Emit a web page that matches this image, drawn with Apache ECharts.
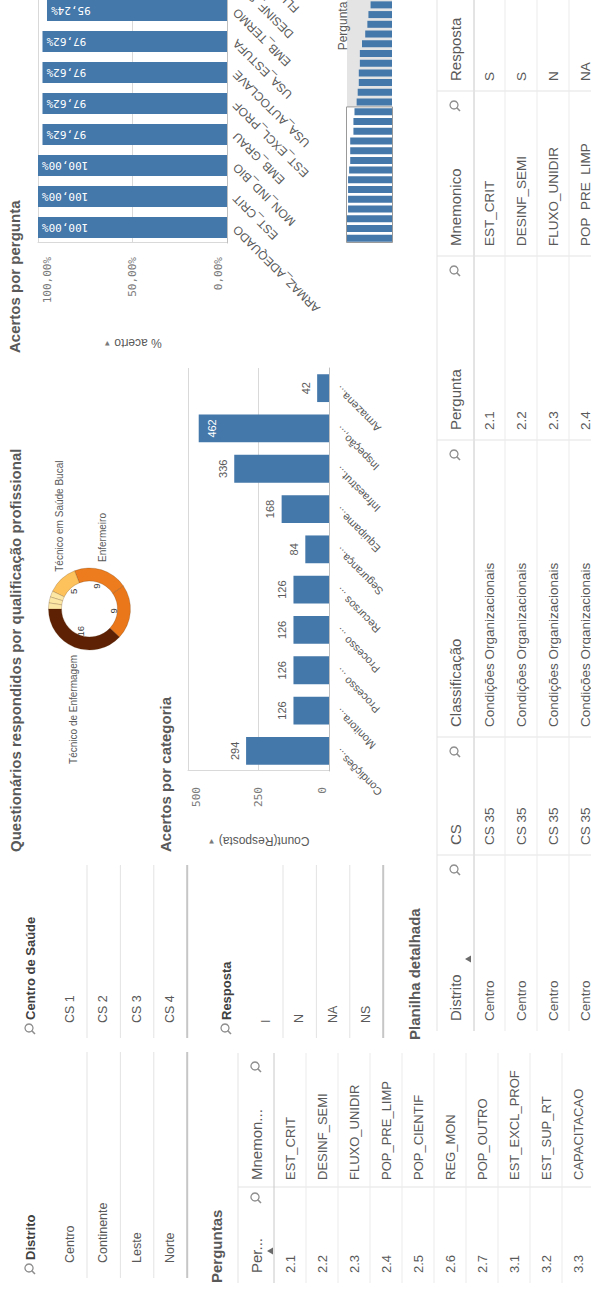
<!DOCTYPE html>
<html>
<head>
<meta charset="utf-8">
<script src="https://cdn.jsdelivr.net/npm/echarts@6/dist/echarts.min.js"></script>
<style>
  html, body { margin: 0; padding: 0; background: #fff; overflow: hidden; width: 591px; height: 1293px; }
  /* the sheet is laid out landscape and turned a quarter turn counter-clockwise;
     whatever lies beyond x = 1293 ends up above the page and is not shown */
  #board { position: absolute; left: 0; top: 0; width: 1500px; height: 591px;
           transform-origin: 0 0; transform: translateY(1293px) rotate(-90deg); background: #fff; }
</style>
</head>
<body>
<div id="board"></div>
<script>
// ---------- data ----------
const distritos = ['Centro', 'Continente', 'Leste', 'Norte'];
const centrosSaude = ['CS 1', 'CS 2', 'CS 3', 'CS 4'];
const respostas = ['I', 'N', 'NA', 'NS'];

const perguntaCodigos = ['2.1', '2.2', '2.3', '2.4', '2.5', '2.6', '2.7', '3.1', '3.2', '3.3'];
const perguntaMnemonicos = ['EST_CRIT', 'DESINF_SEMI', 'FLUXO_UNIDIR', 'POP_PRE_LIMP', 'POP_CIENTIF',
  'REG_MON', 'POP_OUTRO', 'EST_EXCL_PROF', 'EST_SUP_RT', 'CAPACITACAO'];

const qualificacoes = ['Técnico de Enfermagem', 'Auxiliar de Enfermagem', 'Enfermeiro',
  'Técnico em Saúde Bucal', 'Cirurgião-Dentista', 'Auxiliar em Saúde Bucal', 'Outro'];
const questionarios = [16, 9, 9, 5, 1, 1, 1];
const qualificacaoCores = ['#5e2104', '#ea781b', '#ec7c1d', '#fdc25c', '#fde7a5', '#fde7a5', '#fde7a5'];
const qualificacaoRotulo = [true, false, true, true, false, false, false];

const categorias = ['Condições Organizacionais', 'Monitoramento', 'Processo de Limpeza',
  'Processo de Esterilização', 'Recursos Humanos', 'Segurança', 'Equipamentos',
  'Infraestrutura', 'Inspeção, Preparo e Acondicionamento', 'Armazenamento'];
const categoriaRotulos = ['Condições...', 'Monitora...', 'Processo ...', 'Processo ...', 'Recursos ...',
  'Segurança...', 'Equipame...', 'Infraestrut...', 'Inspeção,...', 'Armazena...'];
const acertosCategoria = [294, 126, 126, 126, 126, 84, 168, 336, 462, 42];
const categoriaTicks = [0, 250, 500];

const perguntaNomes = ['ARMAZ_ADEQUADO', 'EST_CRIT', 'MON_IND_BIO', 'EMB_GRAU', 'EST_EXCL_PROF',
  'USA_AUTOCLAVE', 'USA_ESTUFA', 'EMB_TERMO', 'DESINF_SEMI', 'FLUXO_UNIDIR', 'POP_PRE_LIMP',
  'POP_CIENTIF', 'REG_MON', 'POP_OUTRO', 'EST_SUP_RT', 'CAPACITACAO', 'EPI_USO', 'LIMP_AMBIENTE',
  'EMB_SELAGEM', 'IND_QUIMICO', 'VALIDACAO', 'MANUT_PREV', 'REG_ESTERIL', 'TESTE_BD', 'EST_FLUXO'];
const acertoPergunta = [100, 100, 100, 97.62, 97.62, 97.62, 97.62, 95.24, 92.86, 92.86, 92.86,
  85.71, 85.71, 83.33, 78.57, 76.19, 73.81, 73.81, 71.43, 71.43, 66.67, 59.52, 54.76, 52.38, 47.62];
const acertoTicks = [0, 50, 100];
const perguntasNaJanela = 14;

const planilhaColunas = ['Distrito', 'CS', 'Classificação', 'Pergunta', 'Mnemonico', 'Resposta'];
const planilhaDistrito = ['Centro', 'Centro', 'Centro', 'Centro'];
const planilhaCS = ['CS 35', 'CS 35', 'CS 35', 'CS 35'];
const planilhaClassificacao = ['Condições Organizacionais', 'Condições Organizacionais',
  'Condições Organizacionais', 'Condições Organizacionais'];
const planilhaPergunta = ['2.1', '2.2', '2.3', '2.4'];
const planilhaMnemonico = ['EST_CRIT', 'DESINF_SEMI', 'FLUXO_UNIDIR', 'POP_PRE_LIMP'];
const planilhaResposta = ['S', 'S', 'N', 'NA'];

// ---------- styling helpers ----------
const SANS = '"Liberation Sans", Arial, sans-serif';
const MONO = '"DejaVu Sans Mono", monospace';
const TXT = '#595959';
const BLUE = '#4477aa';
const W = 1500, H = 591, VIS = 1293;
const G = [];

function txt(x, y, s, o) {
  o = o || {};
  G.push({
    type: 'text', x: x, y: y, z: 20, silent: true,
    style: {
      text: s, fill: o.fill || TXT, fontSize: o.size || 13,
      fontWeight: o.bold ? 'bold' : 'normal', fontFamily: o.family || SANS,
      textAlign: o.align || 'left', align: o.align || 'left',
      textVerticalAlign: 'middle', verticalAlign: 'middle'
    }
  });
}
function ln(x1, y1, x2, y2, stroke, w) {
  G.push({ type: 'line', z: 1, silent: true, shape: { x1: x1, y1: y1, x2: x2, y2: y2 },
    style: { stroke: stroke, lineWidth: w || 1 } });
}
function lupa(x, y) {
  G.push({ type: 'group', x: x, y: y, z: 20, silent: true, children: [
    { type: 'circle', shape: { cx: 1, cy: -1, r: 4 }, style: { stroke: '#8f8f8f', fill: 'none', lineWidth: 1.3 } },
    { type: 'line', shape: { x1: -1.8, y1: 1.8, x2: -5, y2: 5 }, style: { stroke: '#8f8f8f', lineWidth: 1.6 } }
  ] });
}
function seta(x, y) {
  G.push({ type: 'polygon', z: 20, silent: true, shape: { points: [[x - 3.5, y + 3], [x + 3.5, y + 3], [x, y - 3]] },
    style: { fill: '#6b6b6b' } });
}

// ---------- filter panes ----------
function painel(x0, x1, titleY, titulo, itens, firstY) {
  lupa(x0 + 9, titleY);
  txt(x0 + 18, titleY, titulo, { bold: true, size: 13, fill: '#404040' });
  const passo = 33.4;
  itens.forEach(function (it, i) {
    const y = firstY + i * passo;
    txt(x0 + 15, y, it, { size: 12.5 });
    const last = i === itens.length - 1;
    ln(x0, y + 17, x1, y + 17, last ? '#c6c6c6' : '#e3e3e3', last ? 2 : 1);
  });
}
painel(15, 241, 30, 'Distrito', distritos, 70);
painel(255, 428, 30, 'Centro de Saúde', centrosSaude, 70);
painel(255, 428, 226, 'Resposta', respostas, 266);

// ---------- "Perguntas" table ----------
txt(10, 216, 'Perguntas', { bold: true, size: 15 });
ln(10, 238, 240, 238, '#e3e3e3');
txt(20, 256, 'Per...', { size: 15 });
seta(42, 270);
lupa(95, 256);
txt(113, 256, 'Mnemon...', { size: 15 });
lupa(226, 256);
ln(106, 238, 106, H, '#e3e3e3');
ln(10, 274, 240, 274, '#c8c8c8');
perguntaCodigos.forEach(function (c, i) {
  const y = 290 + i * 32;
  txt(20, y, c, { size: 13 });
  txt(113, y, perguntaMnemonicos[i], { size: 13 });
  ln(10, y + 16, 240, y + 16, '#ebebeb');
});

// ---------- "Planilha detalhada" table ----------
txt(253, 414, 'Planilha detalhada', { bold: true, size: 15 });
const colBordas = [262, 438, 556, 853, 1037, 1202, 1400];
const colValores = [planilhaDistrito, planilhaCS, planilhaClassificacao, planilhaPergunta, planilhaMnemonico, planilhaResposta];
ln(262, 437, W, 437, '#e3e3e3');
ln(262, 474, W, 474, '#c8c8c8');
planilhaColunas.forEach(function (nome, c) {
  const x0 = colBordas[c], x1 = colBordas[c + 1];
  txt(x0 + 10, 455, nome, { size: 15 });
  if (c < planilhaColunas.length - 1) {
    lupa(x1 - 15, 455);
    ln(x1, 437, x1, H, '#e3e3e3');
  }
  colValores[c].forEach(function (v, r) {
    txt(x0 + 10, 489 + r * 32, v, { size: 13.5 });
  });
});
seta(334, 468);
for (let r = 0; r < 3; r++) ln(262, 505 + r * 32, W, 505 + r * 32, '#ebebeb');

// ---------- chart titles ----------
txt(441, 15, 'Questionários respondidos por qualificação profissional', { bold: true, size: 15 });
txt(441, 165, 'Acertos por categoria', { bold: true, size: 15 });
txt(940, 14, 'Acertos por pergunta', { bold: true, size: 15 });

// ---------- charts ----------
const chart = echarts.init(document.getElementById('board'), null, { renderer: 'svg', width: W, height: H });

function pct(v) { return v.toFixed(2).replace('.', ',') + '%'; }
function edgeLabel(minV, maxV, fmt) {
  return function (v) {
    if (v === maxV) return '{hi|' + fmt(v) + '}';
    if (v === minV) return '{lo|' + fmt(v) + '}';
    return fmt(v);
  };
}

const pieData = qualificacoes.map(function (n, i) {
  return { name: n, value: questionarios[i], itemStyle: { color: qualificacaoCores[i] },
    label: { show: qualificacaoRotulo[i] } };
});
const pieInner = qualificacoes.map(function (n, i) {
  return { name: n, value: questionarios[i], label: { show: questionarios[i] > 3 } };
});

const maxCategoria = Math.max.apply(null, acertosCategoria);
const catData = acertosCategoria.map(function (v) {
  return v === maxCategoria ? { value: v, label: { position: 'insideTop', distance: 8, color: '#ffffff' } } : v;
});

// overview strip under the question chart
const faixaLeft = 1050, faixaWidth = VIS - faixaLeft;
const pitch = faixaWidth / perguntaNomes.length;
const janelaFim = faixaLeft + perguntasNaJanela * pitch;

const option = {
  animation: false,
  textStyle: { fontFamily: SANS },
  grid: [
    { left: 522, top: 188, width: 403, height: 141 },
    { left: 1050, top: 38, width: perguntasNaJanela * 31, height: 189 },
    { left: faixaLeft, top: 347, width: faixaWidth, height: 45 }
  ],
  xAxis: [
    { gridIndex: 0, type: 'category', data: categorias,
      axisTick: { show: false }, axisLine: { lineStyle: { color: '#bfbfbf' } },
      axisLabel: { interval: 0, rotate: 45, margin: 8, fontSize: 11, color: TXT,
        formatter: function (v, i) { return categoriaRotulos[i]; } } },
    { gridIndex: 1, type: 'category', data: perguntaNomes.slice(0, perguntasNaJanela),
      axisTick: { show: false }, axisLine: { lineStyle: { color: '#bfbfbf' } },
      axisLabel: { interval: 0, rotate: 45, margin: 8, fontSize: 12, color: TXT },
      name: 'Pergunta', nameLocation: 'middle', nameGap: 110,
      nameTextStyle: { fontSize: 12, color: TXT } },
    { gridIndex: 2, type: 'category', data: perguntaNomes, show: false }
  ],
  yAxis: [
    { gridIndex: 0, type: 'value', min: categoriaTicks[0], max: categoriaTicks[2], interval: categoriaTicks[1],
      axisLine: { show: true, lineStyle: { color: '#d9d9d9' } },
      splitLine: { lineStyle: { color: '#d9d9d9' } },
      axisLabel: { margin: 16, fontSize: 11, fontFamily: MONO, color: '#7a7a7a',
        formatter: edgeLabel(0, 500, String),
        rich: { hi: { padding: [16, 0, 0, 0] }, lo: { padding: [0, 0, 14, 0] } } },
      name: 'Count(Resposta) {t|▼}', nameLocation: 'middle', nameRotate: 90, nameGap: 64,
      nameTextStyle: { fontSize: 12, color: TXT, rich: { t: { fontSize: 8, color: '#7a7a7a' } } } },
    { gridIndex: 1, type: 'value', min: acertoTicks[0], max: acertoTicks[2], interval: acertoTicks[1],
      axisLine: { show: true, lineStyle: { color: '#d9d9d9' } },
      splitLine: { lineStyle: { color: '#d9d9d9' } },
      axisLabel: { margin: 14, fontSize: 11, fontFamily: MONO, color: '#7a7a7a',
        formatter: edgeLabel(0, 100, pct),
        rich: { hi: { padding: [18, 0, 0, 0] }, lo: { padding: [0, 0, 18, 0] } } },
      name: '% acerto {t|▼}', nameLocation: 'middle', nameRotate: 90, nameGap: 94,
      nameTextStyle: { fontSize: 12, color: TXT, rich: { t: { fontSize: 8, color: '#7a7a7a' } } } },
    { gridIndex: 2, type: 'value', min: 0, max: 100, show: false }
  ],
  series: [
    { type: 'pie', center: [684, 89.5], radius: [28, 41], clockwise: false, startAngle: 90,
      avoidLabelOverlap: false, silent: true, data: pieData,
      itemStyle: { borderColor: 'rgba(70,35,0,0.35)', borderWidth: 0.6 },
      label: { position: 'outside', formatter: '{b}', fontSize: 10, color: TXT },
      labelLine: { show: false, length: 3, length2: 0 } },
    { type: 'pie', center: [684, 89.5], radius: [13, 29], clockwise: false, startAngle: 90,
      silent: true, data: pieInner, itemStyle: { color: 'rgba(0,0,0,0)' },
      label: { position: 'inside', formatter: '{c}', fontSize: 9.5, color: '#3a3a3a' },
      labelLine: { show: false } },
    { type: 'bar', xAxisIndex: 0, yAxisIndex: 0, data: catData, barCategoryGap: '31%',
      itemStyle: { color: BLUE }, silent: true,
      label: { show: true, position: 'top', distance: 6, fontSize: 11, color: TXT } },
    { type: 'bar', xAxisIndex: 1, yAxisIndex: 1, data: acertoPergunta.slice(0, perguntasNaJanela),
      barCategoryGap: '33%', itemStyle: { color: BLUE }, silent: true,
      label: { show: true, position: 'insideTop', rotate: 90, align: 'right', verticalAlign: 'middle',
        distance: 4, color: '#ffffff', fontFamily: MONO, fontSize: 11,
        formatter: function (p) { return pct(p.value); } } },
    { type: 'bar', xAxisIndex: 2, yAxisIndex: 2, data: acertoPergunta, barCategoryGap: '28%',
      itemStyle: { color: BLUE }, silent: true, z: 3 }
  ],
  graphic: G.concat([
    // part of the list outside the visible window, and the window frame
    { type: 'rect', z: 0, silent: true, shape: { x: janelaFim, y: 347, width: VIS - janelaFim, height: 45 },
      style: { fill: '#e4e4e4' } },
    { type: 'rect', z: 10, silent: true, shape: { x: faixaLeft + 0.5, y: 346.5, width: janelaFim - faixaLeft - 0.5, height: 46 },
      style: { fill: 'none', stroke: '#9a9a9a', lineWidth: 1 } }
  ])
};
chart.setOption(option);
</script>
</body>
</html>
